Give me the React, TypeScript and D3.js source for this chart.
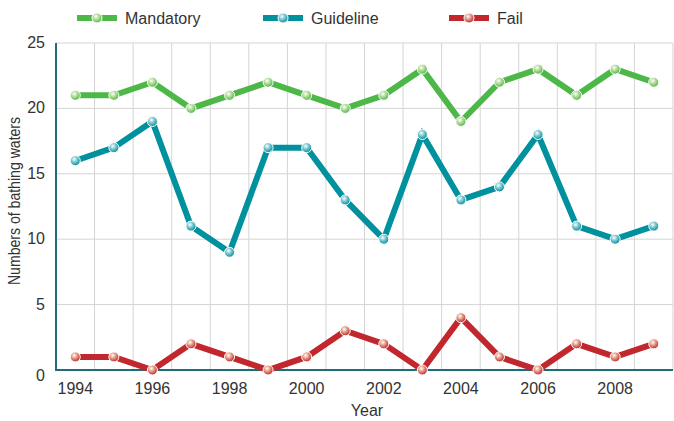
import React, { useEffect, useRef } from 'react';
import * as d3 from 'd3';

const years = d3.range(1994, 2010);
const mandatory = [21, 21, 22, 20, 21, 22, 21, 20, 21, 23, 19, 22, 23, 21, 23, 22];
const guideline = [16, 17, 19, 11, 9, 17, 17, 13, 10, 18, 13, 14, 18, 11, 10, 11];
const fail = [1, 1, 0, 2, 1, 0, 1, 3, 2, 0, 4, 1, 0, 2, 1, 2];
const yTicks = [0, 5, 10, 15, 20, 25];
const xTicks = [1994, 1996, 1998, 2000, 2002, 2004, 2006, 2008];

const series = [
    { name: 'Mandatory', values: mandatory, color: '#4db848', dot: '#b4dc98', legendX: 77 },
    { name: 'Guideline', values: guideline, color: '#00919e', dot: '#7cc6cf', legendX: 263 },
    { name: 'Fail', values: fail, color: '#c1272d', dot: '#e59a84', legendX: 449 }
];

const FONT = '"Liberation Sans Narrow", "Liberation Sans", Arial, sans-serif';

export default function App() {
    const ref = useRef<SVGSVGElement>(null);

    useEffect(() => {
        const svg = d3.select(ref.current);
        svg.selectAll('*').remove();

        const x = d3.scaleLinear().domain([1993.5, 2009.5]).range([56, 673]);
        const y = d3.scaleLinear().domain([0, 25]).range([370, 43]);

        // grid
        const grid = svg.append('g');
        grid.selectAll('.vg')
            .data(d3.range(1994.5, 2010, 1))
            .enter()
            .append('line')
            .attr('x1', d => x(d)).attr('x2', d => x(d))
            .attr('y1', y(25)).attr('y2', y(0))
            .attr('stroke', '#d4d4d4').attr('stroke-width', 1);
        grid.selectAll('.hg')
            .data([5, 10, 15, 20, 25])
            .enter()
            .append('line')
            .attr('x1', x(1993.5)).attr('x2', 673)
            .attr('y1', d => y(d)).attr('y2', d => y(d))
            .attr('stroke', '#d4d4d4').attr('stroke-width', 1);

        // axes lines
        svg.append('line')
            .attr('x1', x(1993.5)).attr('x2', 673)
            .attr('y1', y(0)).attr('y2', y(0))
            .attr('stroke', '#1e6d78').attr('stroke-width', 2);
        svg.append('line')
            .attr('x1', x(1993.5)).attr('x2', x(1993.5))
            .attr('y1', y(25)).attr('y2', y(0) + 1)
            .attr('stroke', '#1e6d78').attr('stroke-width', 2);

        // tick labels
        svg.selectAll('.yt')
            .data(yTicks)
            .enter()
            .append('text')
            .attr('x', 45)
            .attr('y', d => y(d) + 5 + (d === 0 ? 6 : 0))
            .attr('text-anchor', 'end')
            .attr('font-family', FONT)
            .attr('font-size', 16)
            .attr('fill', '#333')
            .text(d => d);
        svg.selectAll('.xt')
            .data(xTicks)
            .enter()
            .append('text')
            .attr('x', d => x(d))
            .attr('y', 394)
            .attr('text-anchor', 'middle')
            .attr('font-family', FONT)
            .attr('font-size', 16)
            .attr('fill', '#333')
            .text(d => d);

        svg.append('text')
            .attr('x', 367).attr('y', 416)
            .attr('text-anchor', 'middle')
            .attr('font-family', FONT)
            .attr('font-size', 16)
            .attr('fill', '#333')
            .text('Year');
        // condensed look for the axis title
        svg.append('text')
            .attr('transform', 'translate(20, 201) rotate(-90) scale(0.88, 1)')
            .attr('text-anchor', 'middle')
            .attr('font-family', FONT)
            .attr('font-size', 16)
            .attr('fill', '#333')
            .text('Numbers of bathing waters');

        // gradients for dots
        const defs = svg.append('defs');
        series.forEach((s, i) => {
            const g = defs.append('radialGradient')
                .attr('id', 'dot' + i)
                .attr('cx', '40%').attr('cy', '35%').attr('r', '65%');
            g.append('stop').attr('offset', '0%').attr('stop-color', '#ffffff');
            g.append('stop').attr('offset', '45%').attr('stop-color', s.dot);
            g.append('stop').attr('offset', '100%').attr('stop-color', s.color);
        });

        const line = d3.line<number>()
            .x((d, i) => x(years[i]))
            .y(d => y(d));

        series.forEach((s, i) => {
            const g = svg.append('g');
            g.append('path')
                .datum(s.values)
                .attr('d', line)
                .attr('fill', 'none')
                .attr('stroke', s.color)
                .attr('stroke-width', 6)
                .attr('stroke-linejoin', 'miter');
            g.selectAll('circle')
                .data(s.values)
                .enter()
                .append('circle')
                .attr('cx', (d, j) => x(years[j]))
                .attr('cy', d => y(d))
                .attr('r', 5)
                .attr('fill', 'url(#dot' + i + ')')
                .attr('stroke', '#ffffff')
                .attr('stroke-width', 1);

            // legend
            const lg = svg.append('g');
            lg.append('line')
                .attr('x1', s.legendX).attr('x2', s.legendX + 40)
                .attr('y1', 18).attr('y2', 18)
                .attr('stroke', s.color).attr('stroke-width', 6);
            lg.append('circle')
                .attr('cx', s.legendX + 20).attr('cy', 18).attr('r', 5)
                .attr('fill', 'url(#dot' + i + ')')
                .attr('stroke', '#ffffff').attr('stroke-width', 1);
            lg.append('text')
                .attr('x', s.legendX + 48).attr('y', 24)
                .attr('font-family', FONT)
                .attr('font-size', 16)
                .attr('fill', '#333')
                .text(s.name);
        });
    }, []);

    return (
        <svg ref={ref} width={674} height={421}
             style={{ position: 'absolute', left: 0, top: 0, background: '#fff' }} />
    );
}
